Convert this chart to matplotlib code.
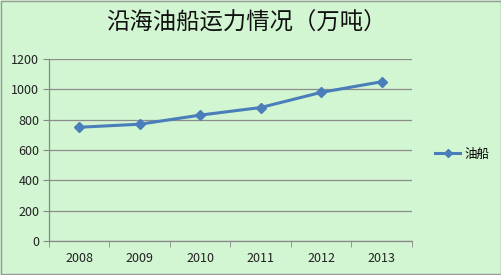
import matplotlib
matplotlib.use("Agg")
import matplotlib.pyplot as plt
from matplotlib.lines import Line2D

plt.rcParams['font.family'] = ['Noto Sans CJK SC', 'DejaVu Sans']

years = ['2008', '2009', '2010', '2011', '2012', '2013']
values = [750, 770, 830, 880, 980, 1050]
series_name = '油船'
title = '沿海油船运力情况（万吨）'
yticks = [0, 200, 400, 600, 800, 1000, 1200]

bg = '#d2f5d2'
line_color = '#4a7ebb'

fig = plt.figure(figsize=(5.02, 2.75), dpi=100, facecolor=bg)
ax = fig.add_axes([0.0976, 0.1236, 0.8207 - 0.0976, 0.7855 - 0.1236])
ax.set_facecolor(bg)

x = list(range(len(years)))
ax.plot(x, values, color=line_color, lw=2.2, marker='D', ms=5.5,
        markerfacecolor=line_color, markeredgecolor=line_color)

ax.set_xlim(-0.5, len(years) - 0.5)
ax.set_ylim(0, 1200)
ax.set_yticks(yticks)
ax.set_yticklabels([str(v) for v in yticks], fontsize=9, color='#222222')
ax.set_xticks(x)
ax.set_xticklabels(years, fontsize=9, color='#222222')
ax.set_xticks([i - 0.5 for i in range(len(years) + 1)], minor=True)
ax.tick_params(axis='x', which='major', length=0, pad=8)
ax.tick_params(axis='x', which='minor', length=4, color='#888888')
ax.tick_params(axis='y', length=4, color='#888888', pad=3)
ax.yaxis.grid(True, color='#8c8c8c', lw=0.9)
ax.set_axisbelow(True)
for s in ['top', 'right']:
    ax.spines[s].set_visible(False)
for s in ['left', 'bottom']:
    ax.spines[s].set_color('#888888')
    ax.spines[s].set_linewidth(0.9)

fig.text(0.49, 0.915, title, ha='center', va='center', fontsize=16.8, color='#111111')

handle = Line2D([0], [0], color=line_color, lw=2.2, marker='D', ms=4,
                markerfacecolor=line_color, markeredgecolor=line_color)
fig.legend([handle], [series_name], loc='center left', bbox_to_anchor=(0.845, 0.44),
           frameon=False, fontsize=9, handlelength=2.0, handletextpad=0.3)

fig.patches.append(plt.Rectangle((0.002, 0.004), 0.996, 0.992, transform=fig.transFigure,
                                 fill=False, edgecolor='#999999', lw=1))

fig.savefig('out.png', dpi=100, facecolor=bg)
